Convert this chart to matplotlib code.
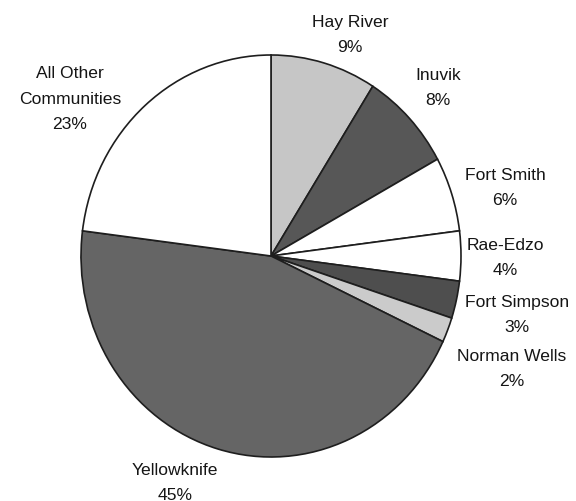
import matplotlib
matplotlib.use("Agg")
import matplotlib.pyplot as plt

communities = ["Hay River", "Inuvik", "Fort Smith", "Rae-Edzo", "Fort Simpson",
               "Norman Wells", "Yellowknife", "All Other\nCommunities"]
shares = [9, 8, 6, 4, 3, 2, 45, 23]
colors = ["#c6c6c6", "#575757", "#ffffff", "#ffffff", "#4e4e4e",
          "#cbcbcb", "#656565", "#ffffff"]

# label centres in pixels (layout)
label_pos = [(350, 35), (438, 88), (505, 188), (505, 258), (517, 315),
             (512, 369), (175, 483), (70, 99)]

W, H = 576, 502
cx, cy = 271, 257
rx, ry = 190, 201

plt.rcParams['font.family'] = ['Liberation Sans', 'DejaVu Sans']
fig = plt.figure(figsize=(W / 100, H / 100), dpi=100)
ax = fig.add_axes([0, 0, 1, 1])
ax.pie(shares, colors=colors, startangle=90, counterclock=False,
       wedgeprops=dict(edgecolor="#1e1e1e", linewidth=1.2))
ax.set_aspect('auto')
ax.set_xlim(-cx / rx, (W - cx) / rx)
ax.set_ylim(-(H - cy) / ry, cy / ry)
ax.axis('off')

for name, val, (x, y) in zip(communities, shares, label_pos):
    fig.text(x / W, 1 - y / H, f"{name}\n{val}%", ha='center', va='center',
             fontsize=12.6, color="#151515", linespacing=1.85)

fig.savefig("out.png", dpi=100, facecolor="white")
